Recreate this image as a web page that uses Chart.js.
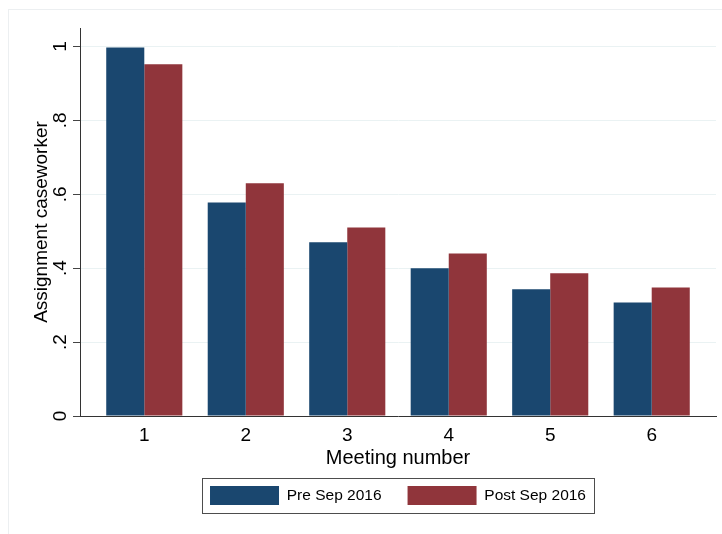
<!DOCTYPE html>
<html>
<head>
<meta charset="utf-8">
<script src="https://cdn.jsdelivr.net/npm/chart.js@4.4.0/dist/chart.umd.min.js"></script>
<style>
  html, body { margin: 0; padding: 0; background: #fff; }
  canvas { display: block; }
</style>
</head>
<body>
<canvas id="meetingChart" width="722" height="534"></canvas>
<script>
const meetings = [1, 2, 3, 4, 5, 6];
const preSep2016 = [0.997, 0.578, 0.470, 0.400, 0.343, 0.307];
const postSep2016 = [0.952, 0.630, 0.510, 0.440, 0.386, 0.348];
const yTickValues = [0, 0.2, 0.4, 0.6, 0.8, 1];
const yTickLabels = ["0", ".2", ".4", ".6", ".8", "1"];

const FONT = "'Liberation Sans', Arial, sans-serif";

// stata-ish extras: outer frame, rotated y labels, legend outline
const stataLook = {
  id: "stataLook",
  beforeDraw(chart) {
    const ctx = chart.ctx;
    ctx.save();
    ctx.fillStyle = "#fff";
    ctx.fillRect(0, 0, chart.width, chart.height);
    ctx.strokeStyle = "#eceff1";
    ctx.lineWidth = 1;
    ctx.strokeRect(8.5, 9.5, chart.width + 20, chart.height + 20);
    ctx.restore();
  },
  afterDraw(chart) {
    const ctx = chart.ctx;
    const y = chart.scales.y;
    ctx.save();
    ctx.fillStyle = "#000";
    ctx.font = "19px " + FONT;
    ctx.textAlign = "center";
    ctx.textBaseline = "alphabetic";
    yTickValues.forEach((v, i) => {
      ctx.save();
      ctx.translate(y.right - 14, y.getPixelForValue(v));
      ctx.rotate(-Math.PI / 2);
      ctx.fillText(yTickLabels[i], 0, 0);
      ctx.restore();
    });

    const boxes = chart.legend.legendHitBoxes;
    if (boxes && boxes.length) {
      const first = boxes[0];
      const last = boxes[boxes.length - 1];
      const left = Math.round(first.left - 8) + 0.5;
      const right = Math.round(last.left + last.width + 8) + 0.5;
      const top = Math.round(first.top - 8) + 0.5;
      const bottom = Math.round(first.top + first.height + 8) + 0.5;
      ctx.strokeStyle = "#4d4d4d";
      ctx.lineWidth = 1;
      ctx.strokeRect(left, top, right - left, bottom - top);
    }
    ctx.restore();
  }
};

new Chart(document.getElementById("meetingChart"), {
  type: "bar",
  data: {
    datasets: [
      {
        label: "Pre Sep 2016",
        data: meetings.map((m, i) => ({ x: m, y: preSep2016[i] })),
        backgroundColor: "#1a476f",
        borderWidth: 0
      },
      {
        label: "Post Sep 2016",
        data: meetings.map((m, i) => ({ x: m, y: postSep2016[i] })),
        backgroundColor: "#90353b",
        borderWidth: 0
      }
    ]
  },
  options: {
    responsive: false,
    animation: false,
    devicePixelRatio: 1,
    categoryPercentage: 0.75,
    barPercentage: 1,
    layout: { padding: { top: 28, right: 6, bottom: 19, left: 0 } },
    plugins: {
      legend: {
        position: "bottom",
        fullSize: false,
        labels: {
          boxWidth: 69,
          boxHeight: 19,
          padding: 26,
          color: "#000",
          font: { family: FONT, size: 15.5 }
        }
      },
      tooltip: { enabled: false }
    },
    scales: {
      x: {
        type: "linear",
        min: 0.3665,
        max: 6.6335,
        offset: false,
        afterBuildTicks: (s) => { s.ticks = meetings.map((v) => ({ value: v })); },
        afterFit: (s) => { s.height = 44; },
        grid: { display: false, drawTicks: false },
        border: { color: "#333", width: 1 },
        ticks: {
          color: "#000",
          padding: 8,
          font: { family: FONT, size: 19 },
          callback: (v) => String(v)
        },
        title: {
          display: true,
          text: "Meeting number",
          color: "#000",
          font: { family: FONT, size: 20 },
          padding: { top: 0, bottom: -10 }
        }
      },
      y: {
        min: 0,
        max: 1.05,
        afterBuildTicks: (s) => { s.ticks = yTickValues.map((v) => ({ value: v })); },
        afterFit: (s) => { s.width = 80; },
        grid: {
          color: (c) => (c.tick && c.tick.value === 0 ? "rgba(0,0,0,0)" : "#eaf2f3"),
          tickColor: "#444",
          tickLength: 7
        },
        border: { color: "#333", width: 1 },
        ticks: { display: false },
        title: {
          display: true,
          text: "Assignment caseworker",
          color: "#000",
          font: { family: FONT, size: 19 },
          padding: { top: 30, bottom: 0 }
        }
      }
    }
  },
  plugins: [stataLook]
});
</script>
</body>
</html>
